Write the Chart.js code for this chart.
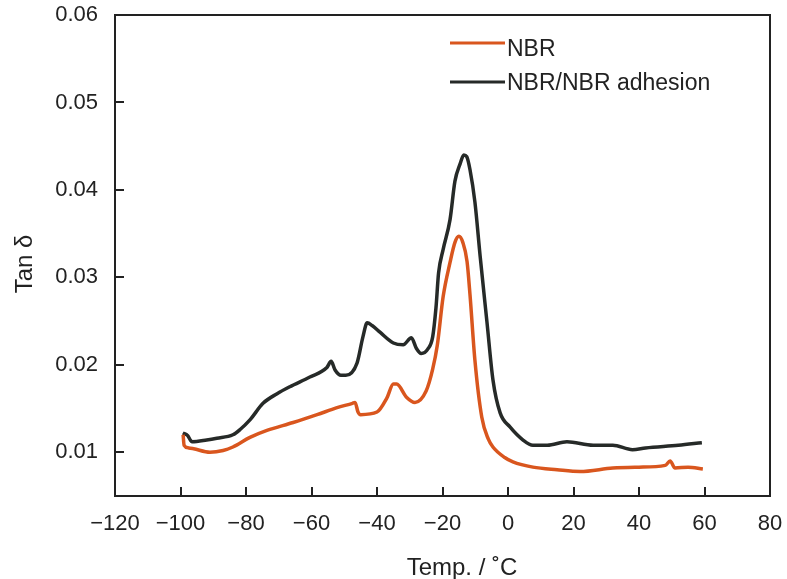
<!DOCTYPE html>
<html>
<head>
<meta charset="utf-8">
<script src="https://cdn.jsdelivr.net/npm/chart.js@4.4.0/dist/chart.umd.min.js"></script>
<style>
  html, body { margin: 0; padding: 0; background: #fff; }
  #wrap { width: 787px; height: 579px; }
</style>
</head>
<body>
<div id="wrap"><canvas id="tanChart" width="787" height="579"></canvas></div>
<script>
// tan delta vs temperature, NBR alone and NBR/NBR adhesion
const tempNBR = [-99.2, -98.9, -97.5, -96, -91, -87, -84, -78.8, -73.6, -65.6, -58.3, -52.2, -47.5, -46.7, -45.8, -45,
  -40, -37, -35, -34, -31, -28.4, -25, -23, -21.6, -19.8, -17.7, -16.2, -15, -13.8, -12.5, -11.6, -10.1, -8, -6,
  -4.6, -1, 1.5, 7.6, 15, 22, 32, 40, 48, 49.5, 51, 55, 59.5];
const tanNBR = [0.0120, 0.0108, 0.0105, 0.0104, 0.0100, 0.0102, 0.0106, 0.0117, 0.0125, 0.0134, 0.0143, 0.0151, 0.0156, 0.0157, 0.0146, 0.0143,
  0.0146, 0.0162, 0.0178, 0.0178, 0.0163, 0.0157, 0.0170, 0.0195, 0.0222, 0.0278, 0.0317, 0.0340, 0.0347, 0.0340, 0.0318, 0.0280, 0.0205, 0.0140, 0.0115,
  0.0106, 0.0094, 0.0089, 0.0083, 0.0080, 0.0078, 0.0082, 0.0083, 0.0085, 0.0090, 0.0082, 0.0083, 0.0081];

const tempAdh = [-99.3, -97.8, -97, -96.5, -92, -88.9, -84, -81.8, -78.8, -74.8, -70.5, -66.6, -60.5, -55.3, -54, -52.8, -51,
  -49.5, -46.1, -44.3, -43, -41.5, -39, -35, -32, -29.5, -28, -26.5, -24.5, -23, -22, -21.2, -19.8, -17.7, -16.2, -14.6,
  -13.5, -12.6, -11.6, -10.1, -8.5, -6.4, -4.6, -2.4, 0.6, 4.6, 7.6, 12, 18, 26, 32, 38, 42, 52, 59.2];
const tanAdh = [0.0122, 0.0119, 0.0114, 0.0112, 0.0114, 0.0116, 0.0120, 0.0126, 0.0137, 0.0156, 0.0167, 0.0175, 0.0186, 0.0197, 0.0204, 0.0194, 0.0188,
  0.0188, 0.0202, 0.0232, 0.0248, 0.0245, 0.0237, 0.0225, 0.0223, 0.0231, 0.0219, 0.0213, 0.0218, 0.0232, 0.0265, 0.0305, 0.0332, 0.0366, 0.0410, 0.0430,
  0.0440, 0.0438, 0.0423, 0.0386, 0.0324, 0.0248, 0.0183, 0.0145, 0.0129, 0.0114, 0.0108, 0.0108, 0.0112, 0.0108, 0.0108, 0.0103, 0.0105, 0.0108, 0.0111];

const seriesNames = ["NBR", "NBR/NBR adhesion"];
const xTicks = [-120, -100, -80, -60, -40, -20, 0, 20, 40, 60, 80];
const yTicks = [0.01, 0.02, 0.03, 0.04, 0.05, 0.06];

const FONT = "'Liberation Sans', Arial, sans-serif";
const INK = "#222";

function toPoints(xs, ys) {
  return xs.map((x, i) => ({ x: x, y: ys[i] }));
}

// box, inward tick marks, axis titles and the legend
const framePlugin = {
  id: "frame",
  afterDraw(chart) {
    const ctx = chart.ctx;
    const a = chart.chartArea;
    const xs = chart.scales.x;
    const ys = chart.scales.y;
    ctx.save();
    ctx.strokeStyle = INK;
    ctx.lineWidth = 2;
    ctx.strokeRect(a.left, a.top, a.right - a.left, a.bottom - a.top);

    ctx.beginPath();
    xTicks.slice(1, -1).forEach(v => {
      const px = Math.round(xs.getPixelForValue(v));
      ctx.moveTo(px, a.bottom);
      ctx.lineTo(px, a.bottom - 9);
    });
    yTicks.slice(0, -1).forEach(v => {
      const py = Math.round(ys.getPixelForValue(v));
      ctx.moveTo(a.left, py);
      ctx.lineTo(a.left + 9, py);
    });
    ctx.stroke();

    ctx.fillStyle = INK;
    ctx.font = "24px " + FONT;
    ctx.textAlign = "center";
    ctx.textBaseline = "alphabetic";
    ctx.fillText("Temp. / \u02daC", 462, 575);

    ctx.save();
    ctx.translate(32, 264);
    ctx.rotate(-Math.PI / 2);
    ctx.fillText("Tan \u03b4", 0, 0);
    ctx.restore();

    // legend
    ctx.textAlign = "left";
    ctx.font = "23px " + FONT;
    const rows = [{ ly: 43, ty: 56 }, { ly: 82, ty: 90 }];
    chart.data.datasets.forEach((ds, i) => {
      ctx.strokeStyle = ds.borderColor;
      ctx.lineWidth = 3;
      ctx.beginPath();
      ctx.moveTo(450, rows[i].ly);
      ctx.lineTo(505, rows[i].ly);
      ctx.stroke();
      ctx.fillStyle = INK;
      ctx.fillText(ds.label, 507, rows[i].ty);
    });
    ctx.restore();
  }
};

new Chart(document.getElementById("tanChart"), {
  type: "line",
  data: {
    datasets: [
      {
        label: seriesNames[0],
        data: toPoints(tempNBR, tanNBR),
        borderColor: "#d9561e",
        borderWidth: 3.5,
        pointRadius: 0,
        cubicInterpolationMode: "monotone"
      },
      {
        label: seriesNames[1],
        data: toPoints(tempAdh, tanAdh),
        borderColor: "#262a28",
        borderWidth: 3.5,
        pointRadius: 0,
        cubicInterpolationMode: "monotone"
      }
    ]
  },
  options: {
    responsive: false,
    animation: false,
    layout: { padding: { top: 15, right: 17, bottom: 0, left: 0 } },
    plugins: { legend: { display: false }, tooltip: { enabled: false } },
    scales: {
      x: {
        type: "linear",
        min: xTicks[0],
        max: xTicks[xTicks.length - 1],
        afterBuildTicks: s => { s.ticks = xTicks.map(v => ({ value: v })); },
        afterFit: s => { s.height = 83; s.paddingLeft = 0; s.paddingRight = 0; },
        grid: { display: false, drawTicks: false },
        border: { display: false },
        ticks: {
          padding: 15,
          color: INK,
          font: { family: FONT, size: 22 },
          maxRotation: 0,
          callback: v => String(v).replace("-", "\u2212")
        }
      },
      y: {
        min: 0.005,
        max: 0.06,
        afterBuildTicks: s => { s.ticks = yTicks.map(v => ({ value: v })); },
        afterFit: s => { s.width = 115; s.paddingTop = 0; s.paddingBottom = 0; },
        grid: { display: false, drawTicks: false },
        border: { display: false },
        ticks: {
          padding: 17,
          color: INK,
          font: { family: FONT, size: 22 },
          callback: v => v.toFixed(2)
        }
      }
    }
  },
  plugins: [framePlugin]
});
</script>
</body>
</html>
